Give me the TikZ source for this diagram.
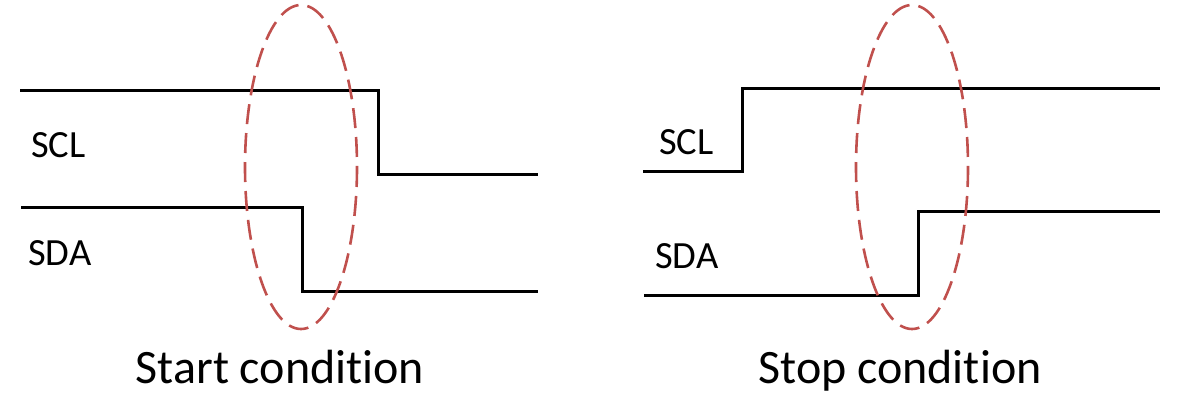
\documentclass[tikz,border=0pt]{standalone}
\usepackage{fontspec}
\setmainfont{Carlito}[Ligatures={NoCommon}]
\definecolor{ovalred}{RGB}{192,80,77}
\tikzset{
  wave/.style={line width=3pt, black, line join=miter},
  oval/.style={line width=2.6pt, ovalred, dash pattern=on 20pt off 9pt},
  siglabel/.style={anchor=base west, inner sep=0pt, font=\fontsize{38.5}{42}\selectfont},
  caption/.style={anchor=base, inner sep=0pt, font=\fontsize{48}{52}\selectfont}
}
\begin{document}
\begin{tikzpicture}[x=1pt,y=-1pt]
\useasboundingbox (0,0) rectangle (1182,407);
% Start condition
\draw[wave] (20,90) -- (378,90) -- (378,174) -- (538,174);
\draw[wave] (21,207) -- (302,207) -- (302,291) -- (538,291);
\draw[oval] (301,167) ellipse [x radius=56, y radius=162];
\node[siglabel] (sclA) at (31,157) {SCL};
\node[siglabel] (sdaA) at (28,265) {SDA};
\node[caption] (start) at (280,383) {Start condition};
% Stop condition
\draw[wave] (643,171) -- (742,171) -- (742,88) -- (1160,88);
\draw[wave] (644,295) -- (918,295) -- (918,211) -- (1160,211);
\draw[oval] (912,167) ellipse [x radius=56, y radius=162];
\node[siglabel] (sclB) at (659,154) {SCL};
\node[siglabel] (sdaB) at (655,268) {SDA};
\node[caption] (stop) at (900,383) {Stop condition};
\end{tikzpicture}
\end{document}
